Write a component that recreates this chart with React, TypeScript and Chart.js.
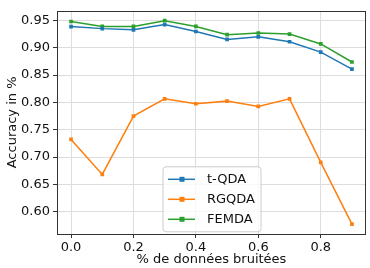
import { useEffect, useRef } from 'react';
import { Chart, registerables } from 'chart.js';

Chart.register(...registerables);

const xValues = [0.0, 0.1, 0.2, 0.3, 0.4, 0.5, 0.6, 0.7, 0.8, 0.9];
const tQDA = [0.9387, 0.935, 0.9328, 0.9423, 0.9297, 0.9153, 0.92, 0.911, 0.892, 0.861];
const rgQDA = [0.7323, 0.6684, 0.7749, 0.8066, 0.7976, 0.8024, 0.7928, 0.8066, 0.6905, 0.5774];
const femda = [0.948, 0.939, 0.939, 0.9495, 0.939, 0.924, 0.927, 0.925, 0.907, 0.874];
const seriesLabels = ['t-QDA', 'RGQDA', 'FEMDA'];
const seriesColors = ['#1f77b4', '#ff7f0e', '#2ca02c'];
const xTicks = [0.0, 0.2, 0.4, 0.6, 0.8];
const yTicks = [0.6, 0.65, 0.7, 0.75, 0.8, 0.85, 0.9, 0.95];
const xTitle = '% de données bruitées';
const yTitle = 'Accuracy in %';

const FONT = "'DejaVu Sans', sans-serif";

const framePlugin = {
  id: 'frame',
  afterDatasetsDraw(chart: any) {
    const { ctx, chartArea: a } = chart;
    ctx.save();
    ctx.strokeStyle = '#333333';
    ctx.lineWidth = 1;
    ctx.strokeRect(Math.round(a.left) + 0.5, Math.round(a.top) + 0.5, Math.round(a.right - a.left) - 1, Math.round(a.bottom - a.top));
    ctx.restore();
  },
};

const legendPlugin = {
  id: 'mplLegend',
  afterDraw(chart: any) {
    const { ctx, chartArea: a } = chart;
    const x0 = a.left + 106;
    const y0 = a.top + 156;
    const w = 98;
    const h = 65;
    ctx.save();
    ctx.beginPath();
    const r = 3;
    ctx.moveTo(x0 + r, y0);
    ctx.lineTo(x0 + w - r, y0);
    ctx.quadraticCurveTo(x0 + w, y0, x0 + w, y0 + r);
    ctx.lineTo(x0 + w, y0 + h - r);
    ctx.quadraticCurveTo(x0 + w, y0 + h, x0 + w - r, y0 + h);
    ctx.lineTo(x0 + r, y0 + h);
    ctx.quadraticCurveTo(x0, y0 + h, x0, y0 + h - r);
    ctx.lineTo(x0, y0 + r);
    ctx.quadraticCurveTo(x0, y0, x0 + r, y0);
    ctx.closePath();
    ctx.fillStyle = 'rgba(255,255,255,0.8)';
    ctx.fill();
    ctx.strokeStyle = '#cccccc';
    ctx.lineWidth = 1;
    ctx.stroke();
    chart.data.datasets.forEach((ds: any, i: number) => {
      const cy = y0 + 12.5 + i * 20;
      ctx.strokeStyle = ds.borderColor;
      ctx.lineWidth = 1.5;
      ctx.beginPath();
      ctx.moveTo(x0 + 5, cy);
      ctx.lineTo(x0 + 32, cy);
      ctx.stroke();
      ctx.fillStyle = ds.borderColor;
      ctx.fillRect(x0 + 19 - 2.5, cy - 2.5, 5, 5);
      ctx.fillStyle = '#111';
      ctx.font = `13px ${FONT}`;
      ctx.textBaseline = 'middle';
      ctx.textAlign = 'left';
      ctx.fillText(ds.label, x0 + 44, cy + 0.5);
    });
    ctx.restore();
  },
};

export default function App() {
  const ref = useRef<HTMLCanvasElement | null>(null);
  useEffect(() => {
    if (!ref.current) return;
    const seriesValues = [tQDA, rgQDA, femda];
    const chart = new Chart(ref.current, {
      type: 'line',
      data: {
        datasets: seriesValues.map((vals, i) => ({
          label: seriesLabels[i],
          data: xValues.map((x, j) => ({ x, y: vals[j] })),
          borderColor: seriesColors[i],
          backgroundColor: seriesColors[i],
          borderWidth: 1.5,
          pointStyle: 'rect',
          pointRadius: 2.6,
          pointBorderWidth: 0,
          pointBackgroundColor: seriesColors[i],
          tension: 0,
          fill: false,
        })),
      },
      options: {
        animation: false,
        responsive: false,
        maintainAspectRatio: false,
        layout: { padding: { top: 7, right: 2, left: 0, bottom: 0 } },
        plugins: {
          legend: { display: false },
          tooltip: { enabled: false },
        },
        scales: {
          x: {
            type: 'linear',
            min: -0.045,
            max: 0.945,
            afterBuildTicks: (s: any) => {
              s.ticks = xTicks.map((v) => ({ value: v }));
            },
            afterFit: (s: any) => {
              s.height = 34;
            },
            ticks: {
              callback: (v: any) => Number(v).toFixed(1),
              font: { family: FONT, size: 13 },
              color: '#111',
              padding: 2,
              maxRotation: 0,
            },
            grid: {
              color: '#dddddd',
              tickColor: '#333',
              tickLength: 4,
              drawTicks: true,
            },
            border: { display: false },
            title: {
              display: true,
              text: xTitle,
              font: { family: FONT, size: 13 },
              color: '#111',
              padding: { top: 0, bottom: 1 },
            },
          },
          y: {
            type: 'linear',
            min: 0.5594,
            max: 0.9676,
            afterBuildTicks: (s: any) => {
              s.ticks = yTicks.map((v) => ({ value: v }));
            },
            afterFit: (s: any) => {
              s.width = 57;
            },
            ticks: {
              callback: (v: any) => Number(v).toFixed(2),
              font: { family: FONT, size: 13 },
              color: '#111',
              padding: 3,
            },
            grid: {
              color: '#dddddd',
              tickColor: '#333',
              tickLength: 4,
              drawTicks: true,
            },
            border: { display: false },
            title: {
              display: true,
              text: yTitle,
              font: { family: FONT, size: 13 },
              color: '#111',
              padding: { top: 5, bottom: 0 },
            },
          },
        },
      },
      plugins: [framePlugin, legendPlugin],
    } as any);
    return () => chart.destroy();
  }, []);
  return (
    <div style={{ position: 'fixed', left: 0, top: 0, width: 370, height: 268, background: '#fff' }}>
      <canvas ref={ref} width={370} height={268} style={{ width: 370, height: 268 }} />
    </div>
  );
}
